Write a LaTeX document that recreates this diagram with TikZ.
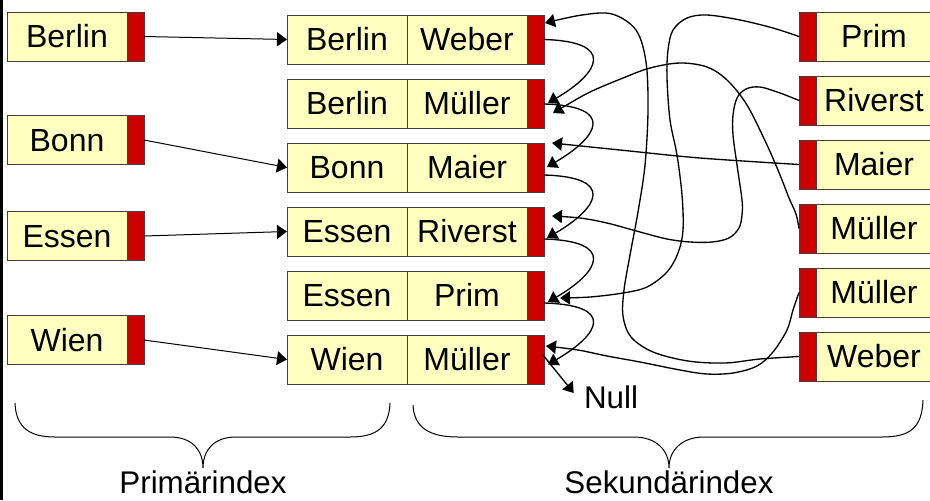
\documentclass[tikz,border=0pt]{standalone}
\usepackage{fontspec}
\setmainfont{Liberation Sans}
\usetikzlibrary{arrows.meta,calc}

\definecolor{cellfill}{RGB}{255,255,192}
\definecolor{ptrfill}{RGB}{204,0,0}
\definecolor{cellline}{RGB}{64,64,64}

\tikzset{
  cell/.style={draw=cellline, fill=cellfill, line width=0.6pt, inner sep=0pt, outer sep=0pt,
    minimum height=36.75pt, text height=17.2pt, text depth=0pt,
    font=\fontsize{24}{28}\selectfont},
  ptr/.style={draw=cellline, fill=ptrfill, line width=0.6pt, inner sep=0pt, outer sep=0pt,
    minimum width=12.75pt, minimum height=36.75pt},
  link/.style={line width=1pt, -{Triangle[length=7.5pt,width=10pt]}},
  feed/.style={line width=0.75pt, -{Triangle[length=7.5pt,width=10.5pt]}},
  brace/.style={line width=0.75pt},
  caption/.style={font=\fontsize{23.5}{28}\selectfont, inner sep=0pt}
}

\begin{document}
\begin{tikzpicture}[x=0.75pt,y=-0.75pt]
\useasboundingbox (0,0) rectangle (930,500);

% frame edge on the left
\fill (0,0) rectangle (2.5,500);

% primary index (left column)
\node[cell, minimum width=90pt] (L1) at (67,36.5) {Berlin};
\node[ptr, anchor=west] (L1p) at (L1.east) {};
\node[cell, minimum width=90pt] (L2) at (67,140) {Bonn};
\node[ptr, anchor=west] (L2p) at (L2.east) {};
\node[cell, minimum width=90pt] (L3) at (67,236) {Essen};
\node[ptr, anchor=west] (L3p) at (L3.east) {};
\node[cell, minimum width=90pt] (L4) at (67,340) {Wien};
\node[ptr, anchor=west] (L4p) at (L4.east) {};

% data records (middle column)
\foreach \k/\y/\a/\b in {1/39.5/Berlin/Weber, 2/103.5/Berlin/Müller, 3/167.5/Bonn/Maier,
                         4/231.5/Essen/Riverst, 5/295.5/Essen/Prim, 6/359.5/Wien/Müller}{
  \node[cell, minimum width=90pt] (M\k a) at (347,\y) {\a};
  \node[cell, minimum width=90pt, anchor=west] (M\k b) at (M\k a.east) {\b};
  \node[ptr, anchor=west] (M\k p) at (M\k b.east) {};
}

% secondary index (right column)
\foreach \k/\y/\t in {1/36.5/Prim, 2/100.5/Riverst, 3/164.5/Maier,
                      4/228.5/Müller, 5/292.5/Müller, 6/356.5/Weber}{
  \node[ptr] (R\k p) at (807.5,\y) {};
  \node[cell, minimum width=87pt, anchor=west] (R\k) at (R\k p.east) {\t};
}

% primary index pointers
\draw[feed] (L1p.east) -- (M1a.west);
\draw[feed] (L2p.east) -- (M3a.west);
\draw[feed] (L3p.east) -- (M4a.west);
\draw[feed] (L4p.east) -- (M6a.west);

% record chain pointers
\draw[link] (M1p.east) .. controls +(71,2) and +(53,-31) .. ($(M2p.east)+(4,-0.5)$);
\draw[link] ($(M2p.east)+(0,0.5)$) .. controls +(71,2) and +(53,-31) .. ($(M3p.east)+(3,-0.5)$);
\draw[link] ($(M3p.east)+(0,7.5)$) .. controls +(71,2) and +(53,-31) .. ($(M4p.east)+(3,6.5)$);
\draw[link] ($(M4p.east)+(0,7.5)$) .. controls +(71,2) and +(53,-31) .. ($(M5p.east)+(4,6.5)$);
\draw[link] ($(M5p.east)+(0,7.5)$) .. controls +(71,2) and +(53,-31) .. ($(M6p.east)+(4,5)$);

% end of chain
\node[caption] (null) at (611,397) {Null};
\draw[link] ($(M6p.east)+(-1,-4.5)$) -- ($(null.west)+(-10,-4)$);

% entry points of the secondary index
\coordinate (t1) at ($(M1p.north east)+(1,8)$);
\coordinate (t2) at ($(M2p.east)+(9,9.5)$);
\coordinate (t3) at ($(M3p.east)+(8,-24.5)$);
\coordinate (t4) at ($(M4p.east)+(8,-15.5)$);
\coordinate (t5) at ($(M5p.east)+(16,2.5)$);
\coordinate (t6) at ($(M6p.east)+(2,-13.5)$);

% Prim
\draw[link] plot[smooth, tension=0.55] coordinates {(R1p.west) (773,28) (740,20) (707,15)
  (687,18) (673,30) (668,50) (667,78) (670,120) (677,155) (682,195) (683,230) (678,253)
  (667,272) (647,287) (623,293) (590,297) (t5)};
% Riverst
\draw[link] plot[smooth, tension=0.55] coordinates {(R2p.west) (780,93) (760,87) (746,89)
  (737,98) (733,115) (733,135) (737,165) (742,200) (742,215) (739,228) (729,238) (712,242)
  (690,242) (667,239) (640,232) (607,223) (580,218) (t4)};
% Maier
\draw[link] plot[smooth, tension=0.55] coordinates {(R3p.west) (700,158) (620,150) (t3)};
% first Müller
\draw[link] plot[smooth, tension=0.55] coordinates {(R4p.west) (796,214) (789,198) (780,175)
  (767,145) (747,105) (727,80) (707,67) (680,63) (650,68) (623,78) (590,92) (565,106) (t2)};
% second Müller
\draw[link] plot[smooth, tension=0.55] coordinates {(R5p.west) (793,310) (787,330) (773,352)
  (757,366) (733,373) (707,374) (680,370) (640,362) (607,356) (578,350) (t6)};
% Weber
\draw[link] plot[smooth, tension=0.55] coordinates {(R6p.west) (760,359) (725,363) (688,361)
  (653,352) (631,337) (623,316) (624,290) (630,255) (638,212) (645,165) (648,110) (646,62)
  (636,30) (612,14) (582,15) (t1)};

% braces
\draw[brace] (15,403) .. controls (16,428) and (30,437) .. (55,437) -- (170,437)
  .. controls (192,437) and (203,450) .. (203,468)
  .. controls (203,450) and (214,437) .. (236,437) -- (350,437)
  .. controls (376,437) and (389,428) .. (390,403);
\draw[brace] (413,405) .. controls (414,428) and (430,437) .. (458,437) -- (634,437)
  .. controls (656,437) and (669,450) .. (669,468)
  .. controls (669,450) and (682,437) .. (704,437) -- (882,437)
  .. controls (910,437) and (922,428) .. (923,400);

\node[caption] (primlabel) at (203,482) {Primärindex};
\node[caption] (seclabel) at (669,482) {Sekundärindex};
\end{tikzpicture}
\end{document}
